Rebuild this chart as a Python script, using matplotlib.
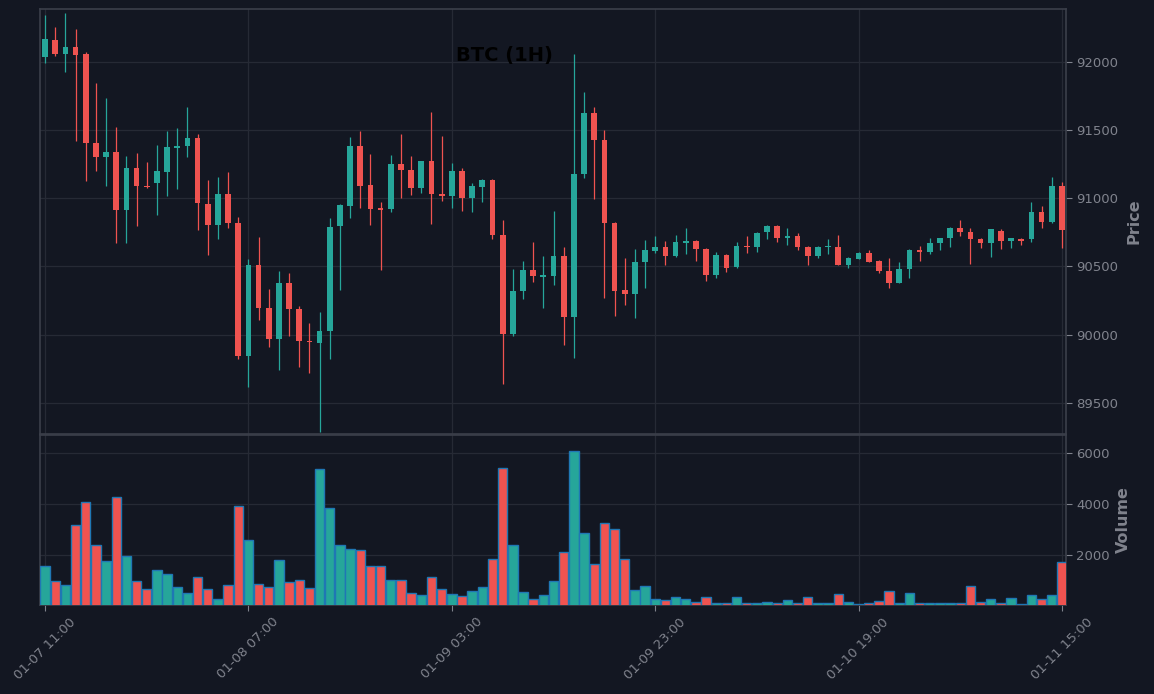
import matplotlib
matplotlib.use("Agg")
import matplotlib.pyplot as plt
import numpy as np
import pandas as pd

# ---- data ----
start_time = "2025-01-07 11:00"
opens = [92034, 92156, 92054, 92105, 92054, 91408, 91301, 91335, 90912, 91218,
         91093, 91110, 91191, 91367, 91381, 91438, 90961, 90802, 91034, 90822,
         89841, 90513, 90198, 89966, 90381, 90191, 89956, 89936, 90024, 90795,
         90946, 91379, 91100, 90927, 90919, 91254, 91210, 91073, 91269, 91034,
         91015, 91203, 91000, 91081, 91137, 90734, 90002, 90318, 90477, 90428,
         90428, 90579, 90127, 91176, 91621, 91423, 90822, 90330, 90296, 90530,
         90616, 90645, 90575, 90675, 90689, 90631, 90435, 90587, 90494, 90653,
         90641, 90751, 90800, 90707, 90726, 90645, 90575, 90641, 90645, 90509,
         90555, 90601, 90543, 90469, 90381, 90479, 90621, 90609, 90670, 90707,
         90785, 90756, 90702, 90670, 90761, 90685, 90702, 90700, 90902, 90824,
         91093]
highs = [92340, 92257, 92355, 92242, 92073, 91846, 91736, 91523, 91311, 91333,
         91266, 91391, 91494, 91516, 91670, 91472, 91134, 91156, 91193, 90863,
         90555, 90719, 90335, 90467, 90455, 90213, 90086, 90166, 90856, 90960,
         91452, 91489, 91325, 90973, 91320, 91467, 91306, 91276, 91628, 91457,
         91259, 91218, 91112, 91144, 91142, 90841, 90482, 90540, 90680, 90579,
         90907, 90645, 92059, 91780, 91670, 91501, 90826, 90562, 90628, 90694,
         90726, 90687, 90731, 90785, 90694, 90638, 90604, 90594, 90680, 90726,
         90756, 90803, 90803, 90780, 90746, 90653, 90653, 90702, 90731, 90567,
         90603, 90621, 90550, 90565, 90535, 90628, 90653, 90712, 90711, 90787,
         90841, 90783, 90709, 90777, 90778, 90709, 90709, 90973, 90944, 91152,
         91122]
lows = [91993, 92042, 91924, 91418, 91125, 91200, 91088, 90670, 90670, 90795,
        91073, 90878, 91017, 91068, 91303, 90765, 90584, 90699, 90782, 89822,
        89614, 90108, 89907, 89741, 89988, 89763, 89721, 89291, 89819, 90328,
        90853, 90927, 90802, 90474, 90897, 91000, 91024, 91037, 90809, 90978,
        90927, 90905, 90897, 90971, 90700, 89636, 89988, 90259, 90384, 90193,
        90364, 89924, 89829, 91149, 90995, 90267, 90134, 90215, 90120, 90340,
        90597, 90511, 90572, 90592, 90538, 90394, 90413, 90457, 90487, 90597,
        90604, 90702, 90677, 90658, 90621, 90511, 90563, 90589, 90509, 90487,
        90553, 90531, 90455, 90340, 90379, 90413, 90538, 90592, 90621, 90641,
        90721, 90516, 90633, 90567, 90628, 90633, 90658, 90677, 90782, 90822,
        90633]
closes = [92164, 92054, 92105, 92046, 91403, 91301, 91335, 90912, 91218, 91088,
          91081, 91196, 91372, 91386, 91438, 90963, 90802, 91034, 90817, 89841,
          90513, 90193, 89966, 90381, 90186, 89951, 89944, 90029, 90792, 90954,
          91379, 91093, 90919, 90917, 91254, 91205, 91073, 91269, 91029, 91015,
          91203, 91000, 91086, 91137, 90729, 90002, 90323, 90477, 90428, 90433,
          90579, 90127, 91181, 91621, 91425, 90817, 90323, 90296, 90535, 90623,
          90645, 90575, 90682, 90689, 90626, 90435, 90587, 90487, 90653, 90641,
          90748, 90800, 90707, 90726, 90641, 90575, 90645, 90648, 90509, 90565,
          90601, 90535, 90465, 90381, 90484, 90621, 90609, 90675, 90709, 90785,
          90751, 90700, 90670, 90775, 90685, 90705, 90690, 90902, 90824, 91093,
          90766]
volumes = [1568, 980, 823, 3176, 4078, 2392, 1764, 4274, 1960, 980,
           667, 1412, 1255, 745, 510, 1137, 667, 274, 823, 3921,
           2588, 863, 745, 1804, 941, 1019, 706, 5372, 3843, 2392,
           2235, 2196, 1568, 1568, 1019, 1019, 510, 431, 1137, 667,
           471, 392, 588, 745, 1843, 5411, 2392, 549, 274, 431,
           980, 2117, 6078, 2862, 1647, 3254, 3019, 1843, 627, 784,
           274, 235, 353, 274, 157, 353, 90, 85, 353, 88,
           92, 157, 86, 235, 90, 353, 84, 95, 471, 157,
           82, 88, 196, 588, 118, 510, 84, 90, 86, 118,
           92, 784, 157, 274, 118, 314, 80, 431, 274, 431,
           1725]
tick_every = 20

# ---- style ----
BG = "#131722"
GRID = "#262a35"
SPINE = "#3b3f4a"
TXT = "#80838d"
UP = "#26a69a"
DOWN = "#ef5350"
VOL_EDGE = "#1f77b4"

o = np.array(opens, float); h = np.array(highs, float)
l = np.array(lows, float); c = np.array(closes, float)
v = np.array(volumes, float)
n = len(o)
x = np.arange(n)
times = pd.date_range(start_time, periods=n, freq="h")
up = c >= o
cols = np.where(up, UP, DOWN)

fig = plt.figure(figsize=(11.54, 6.94), dpi=100, facecolor=BG)
W, H = 1154, 694
axp = fig.add_axes([40 / W, 1 - 434 / H, 1026 / W, 425 / H], facecolor=BG)
axv = fig.add_axes([40 / W, 1 - 605 / H, 1026 / W, 170 / H], facecolor=BG, sharex=axp)

# candles
axp.vlines(x, l, h, colors=cols, linewidth=0.9, zorder=2)
body_lo = np.minimum(o, c)
body_h = np.maximum(np.abs(c - o), 8)
axp.bar(x, body_h, bottom=body_lo - np.where(np.abs(c - o) < 8, (8 - np.abs(c - o)) / 2, 0),
        width=0.56, color=cols, linewidth=0, zorder=3)

# volume
axv.bar(x, v, width=0.92, color=cols, edgecolor=VOL_EDGE, linewidth=1.0, zorder=3)

axp.set_ylim(89273, 92386)
axv.set_ylim(0.3 * v.min(), 1.1 * v.max())
axp.set_xlim(-0.5, n - 1 + 0.4)

ticks = list(range(0, n, tick_every))
axv.set_xticks(ticks)
axv.set_xticklabels([times[i].strftime("%m-%d %H:%M") for i in ticks],
                    rotation=45, ha="center", fontsize=9.5, color=TXT)
plt.setp(axp.get_xticklabels(), visible=False)

axp.set_yticks([89500, 90000, 90500, 91000, 91500, 92000])
axv.set_yticks([2000, 4000, 6000])

for ax in (axp, axv):
    ax.yaxis.tick_right()
    ax.yaxis.set_label_position("right")
    ax.grid(True, color=GRID, linewidth=0.9, zorder=0)
    ax.set_axisbelow(True)
    for s in ax.spines.values():
        s.set_color(SPINE)
        s.set_linewidth(1.2)
    ax.tick_params(axis="y", colors=TXT, labelsize=9.5, length=4, width=0.8)
    ax.tick_params(axis="x", colors=TXT, labelsize=9.5, length=4, width=0.8)
    for t in ax.get_yticklabels():
        t.set_color(TXT)
axp.tick_params(axis="x", length=0)

axp.set_ylabel("Price", fontsize=11.5, fontweight="bold", color=TXT, labelpad=5.5)
axv.set_ylabel("Volume", fontsize=11.5, fontweight="bold", color=TXT, labelpad=4)

fig.text(504 / W, 1 - 56 / H, "BTC (1H)", ha="center", va="center",
         fontsize=14, fontweight="bold", color="black")

fig.savefig("out.png", dpi=100, facecolor=BG)
